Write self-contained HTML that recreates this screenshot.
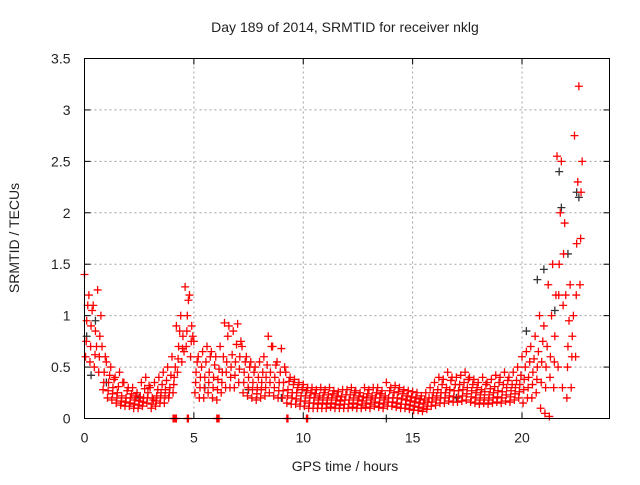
<!DOCTYPE html>
<html><head><meta charset="utf-8"><style>
body{margin:0;background:#fff;}
svg text{font-family:"Liberation Sans",sans-serif;font-size:14px;fill:#222;}
</style></head><body>
<svg id="chart" width="640" height="480" viewBox="0 0 640 480" xmlns="http://www.w3.org/2000/svg">
<rect width="640" height="480" fill="#fff"/>
<text x="345" y="32" text-anchor="middle">Day 189 of 2014, SRMTID for receiver nklg</text>
<text x="345" y="471" text-anchor="middle">GPS time / hours</text>
<text transform="translate(19,238) rotate(-90)" text-anchor="middle">SRMTID / TECUs</text>
<g id="grid"></g>
<g id="ticks"></g>
<g id="black"></g>
<g id="red"></g>
<rect x="84.5" y="58.5" width="525" height="360" fill="none" stroke="#000" stroke-width="1"/>
</svg>
<script>
const xTicks=[0,5,10,15,20];
const yTicks=[0,0.5,1,1.5,2,2.5,3,3.5];
const yTickLabels=["0","0.5","1","1.5","2","2.5","3","3.5"];
const hours=[0,0.2,0.4,0.6,0.8,1.0,1.2,1.4,1.6,1.8,2.0,2.2,2.4,2.6,2.8,3.0,3.2,3.4,3.6,3.8,4.0,4.2,4.4,4.6,4.8,5.0,5.2,5.4,5.6,5.8,6.0,6.2,6.4,6.6,6.8,7.0,7.2,7.4,7.6,7.8,8.0,8.2,8.4,8.6,8.8,9.0,9.2,9.4,9.6,9.8,10.0,10.2,10.4,10.6,10.8,11.0,11.2,11.4,11.6,11.8,12.0,12.2,12.4,12.6,12.8,13.0,13.2,13.4,13.6,13.8,14.0,14.2,14.4,14.6,14.8,15.0,15.2,15.4,15.6,15.8,16.0,16.2,16.4,16.6,16.8,17.0,17.2,17.4,17.6,17.8,18.0,18.2,18.4,18.6,18.8,19.0,19.2,19.4,19.6,19.8,20.0,20.2,20.4,20.6,20.8,21.0,21.2,21.4,21.6,21.8,22.0,22.2,22.4,22.6];
const redHigh=[1.4,1.2,1.1,1.25,0.7,0.55,0.5,0.4,0.45,0.35,0.3,0.3,0.25,0.35,0.4,0.3,0.35,0.4,0.45,0.5,0.6,0.9,1.0,1.28,1.2,0.75,0.6,0.65,0.7,0.65,0.6,0.7,0.93,0.9,0.85,0.92,0.7,0.6,0.55,0.5,0.55,0.6,0.8,0.7,0.55,0.68,0.45,0.4,0.38,0.35,0.33,0.3,0.3,0.28,0.3,0.28,0.3,0.27,0.26,0.28,0.28,0.3,0.27,0.25,0.3,0.28,0.3,0.3,0.27,0.35,0.3,0.32,0.3,0.28,0.27,0.26,0.25,0.22,0.25,0.3,0.35,0.4,0.38,0.45,0.4,0.4,0.42,0.45,0.4,0.38,0.35,0.4,0.35,0.38,0.42,0.4,0.45,0.4,0.45,0.5,0.6,0.65,0.7,0.8,1.0,0.9,1.3,1.5,2.55,2.5,1.2,1.3,2.75,3.23];
const redMid=[0.95,0.9,0.85,0.8,0.45,0.35,0.3,0.25,0.22,0.2,0.2,0.18,0.17,0.2,0.25,0.2,0.22,0.25,0.28,0.3,0.4,0.7,0.8,1.0,0.9,0.45,0.4,0.4,0.45,0.4,0.38,0.45,0.55,0.5,0.55,0.6,0.45,0.4,0.35,0.3,0.35,0.4,0.45,0.4,0.35,0.35,0.28,0.25,0.25,0.22,0.22,0.2,0.2,0.18,0.2,0.18,0.2,0.18,0.17,0.18,0.18,0.2,0.18,0.17,0.2,0.18,0.2,0.2,0.18,0.2,0.2,0.2,0.19,0.18,0.17,0.16,0.15,0.14,0.16,0.2,0.22,0.25,0.25,0.28,0.27,0.27,0.28,0.3,0.27,0.25,0.23,0.26,0.23,0.25,0.27,0.26,0.3,0.27,0.3,0.33,0.38,0.4,0.45,0.5,0.55,0.5,0.6,0.8,1.5,1.6,0.7,0.8,1.7,2.2];
const redLow=[0.6,0.55,0.5,0.45,0.28,0.2,0.18,0.15,0.13,0.12,0.12,0.1,0.1,0.12,0.15,0.1,0.12,0.15,0.15,0.2,0.25,0.45,0.55,0.7,0.6,0.25,0.2,0.2,0.25,0.2,0.18,0.25,0.3,0.3,0.3,0.35,0.25,0.22,0.2,0.18,0.2,0.22,0.25,0.22,0.2,0.2,0.15,0.14,0.14,0.12,0.12,0.1,0.1,0.1,0.1,0.1,0.11,0.1,0.1,0.1,0.1,0.11,0.1,0.1,0.11,0.1,0.12,0.11,0.1,0.12,0.12,0.11,0.1,0.1,0.09,0.08,0.08,0.07,0.09,0.12,0.13,0.15,0.15,0.17,0.16,0.16,0.17,0.18,0.16,0.15,0.14,0.15,0.14,0.15,0.16,0.15,0.17,0.16,0.18,0.2,0.15,0.2,0.2,0.25,0.1,0.05,0.02,0.3,0.5,0.3,0.2,0.3,0.6,1.3];
const redScatterA=[1.1,1.05,0.7,1.0,0.6,0.42,0.38,0.31,0.35,0.27,0.24,0.22,0.21,0.29,0.32,0.18,0.28,0.33,0.37,0.42,0.5,0.85,0.65,1.15,0.8,0.55,0.5,0.55,0.6,0.52,0.48,0.6,0.8,0.62,0.72,0.75,0.55,0.5,0.45,0.4,0.45,0.52,0.7,0.52,0.45,0.5,0.36,0.33,0.3,0.28,0.27,0.25,0.24,0.22,0.25,0.23,0.24,0.22,0.21,0.23,0.23,0.25,0.22,0.21,0.24,0.22,0.25,0.24,0.22,0.27,0.25,0.26,0.24,0.22,0.21,0.2,0.19,0.18,0.2,0.25,0.28,0.33,0.3,0.37,0.33,0.33,0.35,0.38,0.33,0.3,0.28,0.33,0.29,0.31,0.35,0.33,0.37,0.33,0.37,0.42,0.5,0.55,0.58,0.65,0.75,0.7,1.0,1.2,2.0,1.9,0.95,1.0,2.3,2.5];
const redScatterB=[0.75,0.7,0.62,0.6,0.35,0.27,0.24,0.2,0.17,0.16,0.15,0.14,0.13,0.16,0.2,0.14,0.17,0.2,0.22,0.25,0.33,0.58,0.68,0.85,0.75,0.35,0.3,0.3,0.35,0.3,0.28,0.35,0.45,0.4,0.42,0.48,0.35,0.3,0.28,0.24,0.28,0.3,0.35,0.3,0.27,0.27,0.22,0.2,0.19,0.17,0.17,0.15,0.15,0.14,0.15,0.14,0.15,0.14,0.13,0.14,0.14,0.15,0.14,0.13,0.15,0.14,0.16,0.15,0.14,0.16,0.16,0.15,0.14,0.14,0.13,0.12,0.11,0.1,0.12,0.16,0.18,0.2,0.2,0.22,0.21,0.21,0.22,0.24,0.21,0.2,0.18,0.2,0.18,0.2,0.21,0.2,0.23,0.21,0.24,0.26,0.28,0.3,0.33,0.38,0.35,0.3,0.4,0.55,1.2,1.1,0.5,0.6,1.2,1.75];
const zeroHours=[4.05,4.1,4.15,4.2,4.7,4.75,6.05,6.1,6.15,9.25,9.3,10.15,10.2];
const zeroValues=[0,0,0,0,0,0,0,0,0,0,0,0,0];
const blackHours=[0.1,0.3,0.5,1.0,2.5,5.5,7.5,9.0,13.8,17.0,20.2,20.7,21.0,21.5,21.7,21.8,22.1,22.5,22.6];
const blackValues=[0.8,0.42,0.95,0.35,0.2,0.3,0.28,0.2,0.0,0.2,0.85,1.35,1.45,1.05,2.4,2.05,1.6,2.2,2.15];
const X0=84.5,X1=609.5,Y0=418.5,Y1=58.5;
function sx(h){return X0+(h/24)*(X1-X0);}
function sy(v){return Y0-(v/3.5)*(Y0-Y1);}
const NS="http://www.w3.org/2000/svg";
function mk(tag,attrs,parent){const e=document.createElementNS(NS,tag);for(const k in attrs)e.setAttribute(k,attrs[k]);parent.appendChild(e);return e;}
const grid=document.getElementById('grid'),ticks=document.getElementById('ticks');
xTicks.forEach(t=>{const x=sx(t);
 if(t>0){const g=mk('line',{x1:x,x2:x,y1:Y0,y2:Y1,stroke:'#a0a0a0','stroke-dasharray':'2,3'},grid);
 }
 mk('line',{x1:x,x2:x,y1:Y0,y2:Y0-6,stroke:'#000'},ticks);
 mk('line',{x1:x,x2:x,y1:Y1,y2:Y1+6,stroke:'#000'},ticks);
 const tx=mk('text',{x:x,y:Y0+24,'text-anchor':'middle'},ticks);tx.textContent=String(t);
 
});
yTicks.forEach((t,i)=>{const y=sy(t);
 if(t>0&&t<3.5){const g=mk('line',{x1:X0,x2:X1,y1:y,y2:y,stroke:'#a0a0a0','stroke-dasharray':'2,3'},grid);
 }
 mk('line',{x1:X0,x2:X0+6,y1:y,y2:y,stroke:'#000'},ticks);
 mk('line',{x1:X1,x2:X1-6,y1:y,y2:y,stroke:'#000'},ticks);
 const tx=mk('text',{x:X0-14,y:y+5,'text-anchor':'end'},ticks);tx.textContent=yTickLabels[i];
 
});
function plus(h,v,color,parent){const x=sx(h),y=sy(v);
 const p=mk('path',{d:`M${x-4},${y}H${x+4}M${x},${y-4}V${y+4}`,stroke:color,'stroke-width':1.3,fill:'none'},parent);
 
 }
const black=document.getElementById('black'),red=document.getElementById('red');
blackHours.forEach((h,i)=>plus(h,blackValues[i],'#333',black));
hours.forEach((h,i)=>{
 plus(h,redHigh[i],'#f00',red);
 plus(h+0.1,redMid[i],'#f00',red);
 plus(h+0.05,redLow[i],'#f00',red);
 plus(h+0.15,redScatterA[i],'#f00',red);
 plus(h+0.08,redScatterB[i],'#f00',red);
});
zeroHours.forEach((h,i)=>plus(h,zeroValues[i],'#f00',red));
</script>
</body></html>
